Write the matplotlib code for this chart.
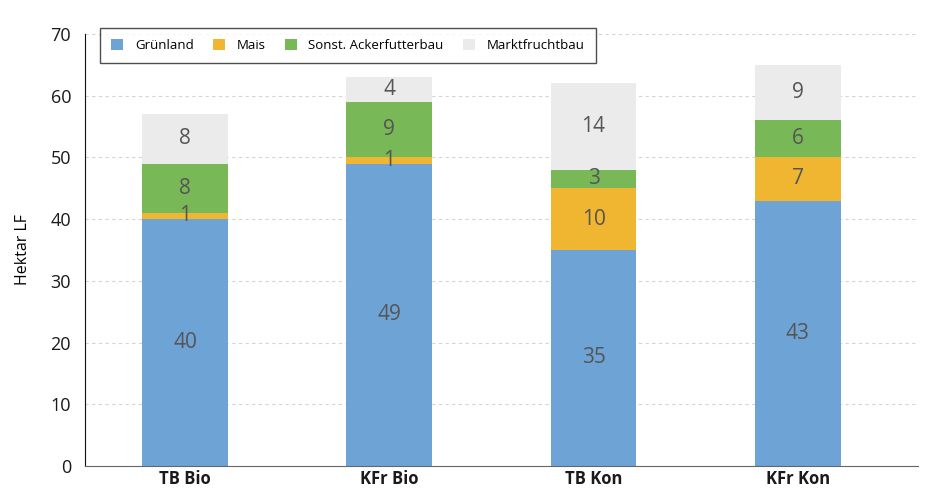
import numpy as np
import matplotlib.pyplot as plt
from matplotlib.patches import Patch

plt.rcParams['font.family'] = ['Open Sans', 'DejaVu Sans']

# Flächenaufteilung je Betriebsgruppe (Hektar LF)
betriebe = ['TB Bio', 'KFr Bio', 'TB Kon', 'KFr Kon']
gruenland = [40, 49, 35, 43]
mais = [1, 1, 10, 7]
ackerfutter = [8, 9, 3, 6]
marktfrucht = [8, 4, 14, 9]

serien = [
    ('Grünland', gruenland, '#6ea3d5'),
    ('Mais', mais, '#f1b631'),
    ('Sonst. Ackerfutterbau', ackerfutter, '#79b856'),
    ('Marktfruchtbau', marktfrucht, '#ebebeb'),
]

fig = plt.figure(figsize=(9.31, 4.91), dpi=100)
ax = fig.add_axes([0.0913, 0.051, 0.895, 0.88])

x = np.arange(len(betriebe))
unten = np.zeros(len(betriebe))
for name, werte, farbe in serien:
    werte = np.array(werte, dtype=float)
    bars = ax.bar(x, werte, width=0.42, bottom=unten, color=farbe, label=name, zorder=2)
    for b, w, u in zip(bars, werte, unten):
        ax.text(b.get_x() + b.get_width() / 2, u + w / 2, f'{w:.0f}',
                ha='center', va='center', fontsize=15, color='#555555', zorder=3)
    unten += werte

ax.set_xlim(-0.49, 3.59)
ax.set_ylim(0, 70)
ax.set_yticks(range(0, 71, 10))
ax.tick_params(axis='y', labelsize=13, length=0, pad=10, labelcolor='#1a1a1a')
ax.tick_params(axis='x', labelsize=12, length=0, pad=3, labelcolor='#1a1a1a')
ax.set_xticks(x)
ax.set_xticklabels(betriebe, fontweight='bold')
ax.set_ylabel('Hektar LF', fontsize=11.5, labelpad=14)

ax.yaxis.grid(True, linestyle=(0, (3, 3)), color='#d4d4d4', linewidth=0.8, zorder=0)
ax.spines['top'].set_visible(False)
ax.spines['right'].set_visible(False)
ax.spines['left'].set_color('#111111')
ax.spines['bottom'].set_color('#666666')

handles = [Patch(facecolor=f, edgecolor='none') for _, _, f in serien]
leg = ax.legend(handles, [s[0] for s in serien], loc='upper left',
                bbox_to_anchor=(0.01, 1.03), ncol=4, fontsize=9.5,
                frameon=True, fancybox=False, handlelength=0.9, handleheight=0.9,
                columnspacing=1.45, handletextpad=0.9, borderpad=0.85)
leg.get_frame().set_edgecolor('#222222')
leg.get_frame().set_linewidth(1.0)

fig.savefig('out.png', dpi=100)
